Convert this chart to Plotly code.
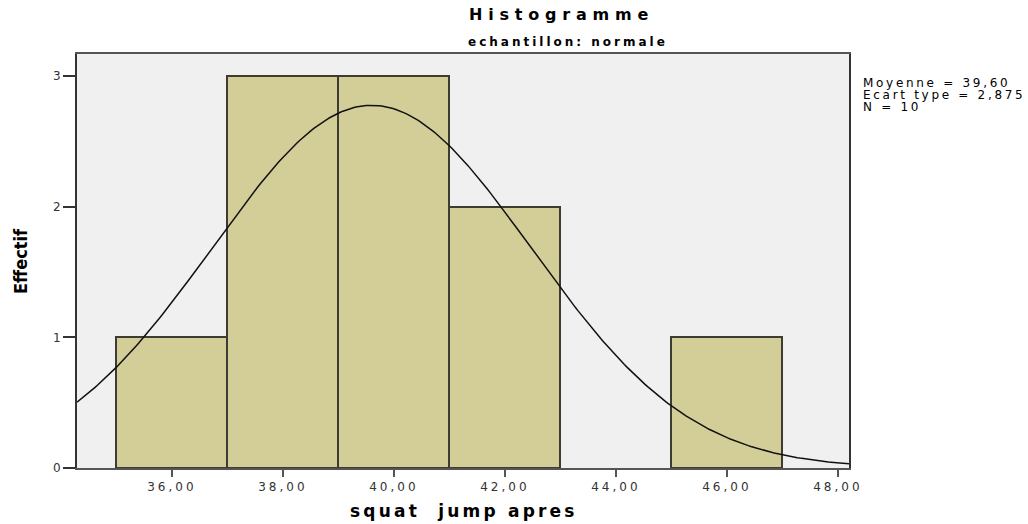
import numpy as np
import plotly.graph_objects as go

# Data
bin_starts = [35, 37, 39, 41, 45]
bin_ends = [37, 39, 41, 43, 47]
counts = [1, 3, 3, 2, 1]
mean_val = 39.60
sd_val = 2.875
n_val = 10
bin_width = 2
x_tick_vals = [36, 38, 40, 42, 44, 46, 48]
x_tick_text = ["36,00", "38,00", "40,00", "42,00", "44,00", "46,00", "48,00"]
y_tick_vals = [0, 1, 2, 3]
stats_lines = ["Moyenne = 39,60", "Ecart type = 2,875", "N = 10"]

x_range = [34.29, 48.2]
y_range = [0, 3.168]

fig = go.Figure()

centers = [(a + b) / 2 for a, b in zip(bin_starts, bin_ends)]
widths = [b - a for a, b in zip(bin_starts, bin_ends)]
fig.add_trace(go.Bar(
    x=centers, y=counts, width=widths,
    marker=dict(color="#D3CE98", line=dict(color="#3e3c32", width=2)),
    hoverinfo="skip", showlegend=False,
))

xs = np.linspace(x_range[0], x_range[1], 300)
ys = n_val * bin_width / (sd_val * np.sqrt(2 * np.pi)) * np.exp(-0.5 * ((xs - mean_val) / sd_val) ** 2)
fig.add_trace(go.Scatter(x=xs, y=ys, mode="lines",
                         line=dict(color="#111111", width=1.5),
                         hoverinfo="skip", showlegend=False))

W, H = 1028, 524
L, R, T, B = 77, 179, 54, 56

def px_x(p):
    return (p - L) / (W - L - R)

def px_y(p):
    return 1 - (p - T) / (H - T - B)

def spaced(s, sp):
    return f'<span style="letter-spacing:{sp}px">{s}</span>'

SANS = "DejaVu Sans, Verdana"

annotations = [
    dict(text="<b>" + spaced("Histogramme", 5.8) + "</b>", x=px_x(561), y=px_y(14),
         xref="paper", yref="paper", yanchor="middle", xanchor="center",
         showarrow=False, font=dict(family=SANS, size=16, color="#000")),
    dict(text="<b>" + spaced("echantillon: normale", 3.0) + "</b>", x=px_x(568), y=px_y(42),
         xref="paper", yref="paper", yanchor="middle", xanchor="center",
         showarrow=False, font=dict(family=SANS, size=12, color="#000")),
    dict(text="<b>" + spaced("squat&nbsp; jump apres", 3.2) + "</b>",
         x=px_x(464), y=px_y(511), xref="paper", yref="paper", yanchor="middle", xanchor="center",
         showarrow=False, font=dict(family=SANS, size=17, color="#000")),
    dict(text="<b>Effectif</b>", x=px_x(20), y=px_y(261), xref="paper", yref="paper",
         yanchor="middle", xanchor="center",
         textangle=-90, showarrow=False,
         font=dict(family="Liberation Sans Narrow, DejaVu Sans Condensed, Arial Narrow", size=18, color="#000")),
]
for line, ypos in zip(stats_lines, [83, 95, 107]):
    annotations.append(dict(text=spaced(line, 2.7), x=px_x(861), y=px_y(ypos),
                            xref="paper", yref="paper", xanchor="left", yanchor="middle",
                            align="left", showarrow=False,
                            font=dict(family=SANS, size=12, color="#000")))

fig.update_layout(
    width=W, height=H,
    margin=dict(l=L, r=R, t=T, b=B),
    paper_bgcolor="white", plot_bgcolor="#F0F0F0",
    bargap=0,
    annotations=annotations,
    xaxis=dict(range=x_range, tickvals=x_tick_vals,
               ticktext=[spaced(t, 3.0) for t in x_tick_text],
               ticks="outside", ticklen=7, tickwidth=2, tickcolor="#555",
               showgrid=False, zeroline=False, showline=True, linecolor="#555", linewidth=2,
               mirror=True, tickfont=dict(family=SANS, size=12, color="#333")),
    yaxis=dict(range=y_range, tickvals=y_tick_vals,
               ticks="outside", ticklen=12, tickwidth=1.5, tickcolor="#333",
               showgrid=False, zeroline=False, showline=True, linecolor="#333", linewidth=2,
               mirror=True, tickfont=dict(family=SANS, size=12, color="#333")),
)

fig.write_html("out.html")
